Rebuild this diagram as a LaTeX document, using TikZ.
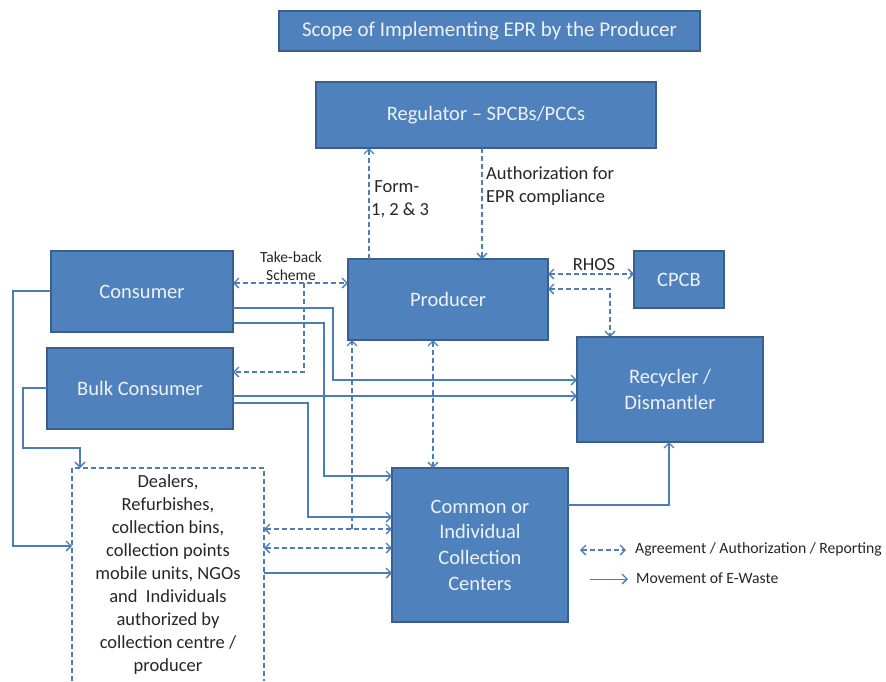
\documentclass[tikz,border=0pt]{standalone}
\usepackage{fontspec}
\setmainfont{Carlito}
\usetikzlibrary{arrows.meta}
\definecolor{boxfill}{HTML}{4F81BD}
\definecolor{boxline}{HTML}{3A5F8F}
\definecolor{conn}{HTML}{4A7DBA}
\definecolor{boxtext}{HTML}{EEF2F8}
\definecolor{darktext}{HTML}{262626}
\tikzset{
  bluebox/.style={rectangle, fill=boxfill, draw=boxline, line width=1.8pt, text=boxtext,
    inner sep=0pt, outer sep=0pt, align=center, font=\fontsize{20.5}{25.7}\selectfont},
  flow/.style={draw=conn, line width=1.5pt, -{Straight Barb[length=5pt,width=10pt,line width=1.3pt]}},
  agree/.style={draw=conn, line width=1.5pt, dash pattern=on 5pt off 3pt},
  agreeboth/.style={agree, {Straight Barb[length=5pt,width=10pt,line width=1.3pt]}-{Straight Barb[length=5pt,width=10pt,line width=1.3pt]}},
  agreeto/.style={agree, -{Straight Barb[length=5pt,width=10pt,line width=1.3pt]}},
  note/.style={text=darktext, inner sep=0pt, align=left, font=\fontsize{18.5}{23}\selectfont},
}
\begin{document}
\begin{tikzpicture}[x=1pt,y=-1pt]
\useasboundingbox[fill=white] (0,0) rectangle (886,681);

% boxes
\node[bluebox, minimum width=421pt, minimum height=40pt, font=\fontsize{21}{25}\selectfont] (title) at (489.5,31) {Scope of Implementing EPR by the Producer};
\node[bluebox, minimum width=340pt, minimum height=66pt] (reg) at (486,115) {Regulator -- SPCBs/PCCs};
\node[bluebox, minimum width=200pt, minimum height=81pt] (prod) at (448,299.5) {Producer};
\node[bluebox, minimum width=182pt, minimum height=81pt] (cons) at (142,291.5) {Consumer};
\node[bluebox, minimum width=186pt, minimum height=81pt] (bulk) at (140,388.5) {Bulk Consumer};
\node[bluebox, minimum width=90pt, minimum height=57pt] (cpcb) at (679,279.5) {CPCB};
\node[bluebox, minimum width=186pt, minimum height=105pt] (rec) at (670,389.5) {Recycler /\\Dismantler};
\node[bluebox, minimum width=176pt, minimum height=154pt] (common) at (480,545) {Common or\\Individual\\Collection\\Centers};
\node[inner sep=0pt, outer sep=0pt, minimum width=192pt, minimum height=213pt, align=center,
  text=darktext, font=\fontsize{18.5}{23}\selectfont] (dealers) at (168,574.5)
  {Dealers,\\Refurbishes,\\collection bins,\\collection points\\mobile units, NGOs\\and~ Individuals\\authorized by\\collection centre /\\producer};
\draw[agree] (dealers.south west) -- (dealers.north west) -- (dealers.north east) -- (dealers.south east);

% labels
\node[note, anchor=west] (formlbl) at (371,199.5) {\,Form-\\1, 2 \& 3};
\node[note, anchor=west] (authlbl) at (486,186.5) {Authorization for\\EPR compliance};
\node[note, align=center, font=\fontsize{15.5}{18}\selectfont] (tblbl) at (291,266) {Take-back\\Scheme};
\node[note] (rhoslbl) at (594,265) {RHOS};

% regulator <-> producer
\draw[agreeto] (prod.north -| 369,0) -- (reg.south -| 369,0);
\draw[agreeto] (reg.south -| 482,0) -- (prod.north -| 482,0);

% take-back scheme
\draw[agreeboth] (cons.east |- 0,283) -- (prod.west |- 0,283);
\coordinate (tbsplit) at (304,283);
\draw[agreeto] (tbsplit) -- (304,372) -- (bulk.east |- 0,372);

% consumer flows
\draw[flow] (cons.east |- 0,308) -- (333,308) -- (333,380) -- (rec.west |- 0,380);
\draw[flow] (cons.east |- 0,323) -- (324,323) -- (324,476) -- (common.west |- 0,476);
\draw[flow] (cons.west |- 0,291) -- (13,291) -- (13,546) -- (dealers.west |- 0,546);

% bulk consumer flows
\draw[flow] (bulk.east |- 0,396) -- (rec.west |- 0,396);
\draw[flow] (bulk.east |- 0,403) -- (308,403) -- (308,517) -- (common.west |- 0,517);
\draw[flow] (bulk.west |- 0,388) -- (23,388) -- (23,448) -- (80,448) -- (dealers.north -| 80,0);

% dealers <-> collection centers
\draw[agreeboth] (dealers.east |- 0,529) -- (common.west |- 0,529);
\draw[agreeboth] (dealers.east |- 0,548) -- (common.west |- 0,548);
\draw[flow] (dealers.east |- 0,573) -- (common.west |- 0,573);
\coordinate (dsplit) at (352,529);
\draw[agreeto] (dsplit) -- (prod.south -| 352,0);

% producer <-> collection centers
\draw[agreeboth] (prod.south -| 433,0) -- (common.north -| 433,0);

% producer <-> CPCB, recycler
\draw[agreeboth] (prod.east |- 0,274) -- (cpcb.west |- 0,274);
\draw[agreeboth] (prod.east |- 0,289) -- (610,289) -- (rec.north -| 610,0);

% collection centers -> recycler
\draw[flow] (common.east |- 0,505) -- (669,505) -- (rec.south -| 669,0);

% legend
\coordinate (lga) at (580,550);
\coordinate (lgb) at (626,550);
\coordinate (lgc) at (590,579);
\coordinate (lgd) at (628,579);
\draw[agreeboth] (lga) -- (lgb);
\draw[flow, line width=1pt] (lgc) -- (lgd);
\node[note, anchor=west, font=\fontsize{15.7}{18}\selectfont] (lgt1) at (635,549) {Agreement / Authorization / Reporting};
\node[note, anchor=west, font=\fontsize{15.7}{18}\selectfont] (lgt2) at (636,578) {Movement of E-Waste};
\end{tikzpicture}
\end{document}
